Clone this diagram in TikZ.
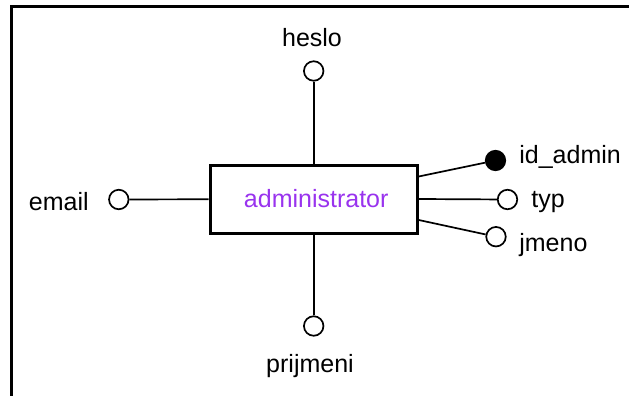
\documentclass[tikz,border=0pt]{standalone}
\usepackage{fontspec}
\setmainfont{Liberation Sans}
\definecolor{entpurple}{RGB}{153,51,238}

\begin{document}
\begin{tikzpicture}[x=1pt,y=-1pt,line width=1.7pt,
	entity/.style = {draw, line width=3pt, minimum width=207pt, minimum height=68pt, text=entpurple, font=\fontsize{25}{30}\selectfont},
	attr/.style = {draw, circle, line width=1.7pt, minimum size=19.5pt, inner sep=0pt},
	key/.style = {attr, fill=black},
	lbl/.style = {font=\fontsize{25}{30}\selectfont, inner sep=0pt}]
		\useasboundingbox (0,0) rectangle (629,396);
		%Frame (cut off on the right and at the bottom)
		\draw[line width=2.8pt] (11.3,397) -- (11.3,6.2) -- (630,6.2);
		
		%Entity
		\node[entity] (1) at (313.7,199) {\hspace{5pt}administrator};
		
		%Attributes
		\node[attr] (2) at (313.7,71) {}; %heslo
		\node[attr] (3) at (313.7,326) {}; %prijmeni
		\node[attr] (4) at (118.8,199.5) {}; %email
		\node[key] (5) at (495.5,160.5) {}; %id_admin
		\node[attr] (6) at (507.5,199.5) {}; %typ
		\node[attr] (7) at (496,236.7) {}; %jmeno
		
		%Labels
		\node[lbl, anchor=base] (8) at (312,47) {heslo};
		\node[lbl, anchor=base] (9) at (310,372) {prijmeni};
		\node[lbl, anchor=base east] (10) at (89.5,210) {email};
		\node[lbl, anchor=base west] (11) at (518.5,163.5) {id\_admin};
		\node[lbl, anchor=base west] (12) at (530.5,207) {typ};
		\node[lbl, anchor=base west] (13) at (518.5,251) {jmeno};
		
		%Edges
		\draw (1) -- (2); %administrator - heslo
		\draw (1) -- (3); %administrator - prijmeni
		\draw (1) -- (4); %administrator - email
		\draw ([yshift=22.5pt]1.east) -- (5); %administrator - id_admin
		\draw (1.east) -- (6); %administrator - typ
		\draw ([yshift=-21pt]1.east) -- (7); %administrator - jmeno
		
	\end{tikzpicture}
\end{document}
